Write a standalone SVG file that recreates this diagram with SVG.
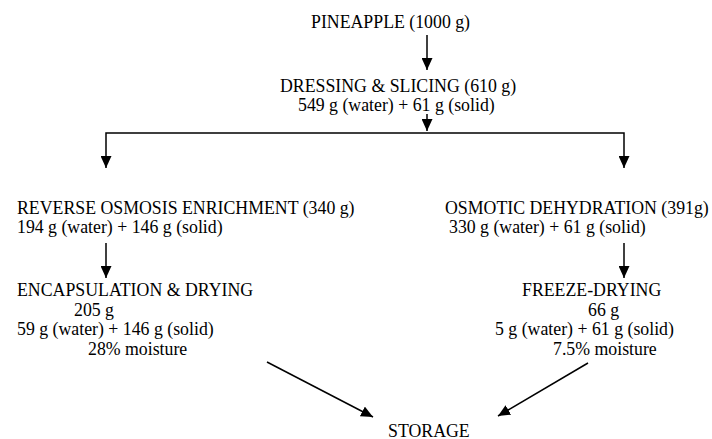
<svg xmlns="http://www.w3.org/2000/svg" width="712" height="439" viewBox="0 0 712 439" font-family="'Liberation Serif', Tinos, 'Times New Roman', 'DejaVu Serif', serif" font-size="17.8">
<style>
text{font-family:'Liberation Serif',Tinos,'Times New Roman','DejaVu Serif',serif;font-size:17.8px;fill:#000}
.c{fill:none;stroke:#000;stroke-width:1.5}
</style>
<defs>
<marker id="ah" markerUnits="userSpaceOnUse" markerWidth="12" markerHeight="11" viewBox="0 0 12 11" refX="12" refY="5.5" orient="auto">
<path d="M0,0 L12,5.5 L0,11 z" fill="#000"/>
</marker>
</defs>
<rect width="712" height="439" fill="#fff"/>
<g id="connectors">
<path class="c" d="M427,35 V70" marker-end="url(#ah)"/>
<path class="c" d="M427,114 V131" marker-end="url(#ah)"/>
<path class="c" d="M427,133 H106 V168" marker-end="url(#ah)"/>
<path class="c" d="M427,133 H624 V168" marker-end="url(#ah)"/>
<path class="c" d="M106,243 V278" marker-end="url(#ah)"/>
<path class="c" d="M624,243 V278" marker-end="url(#ah)"/>
<path class="c" d="M267,362 L373,417" marker-end="url(#ah)"/>
<path class="c" d="M588,363 L498,416" marker-end="url(#ah)"/>
</g>
<g id="pineapple"><text x="311" y="28">PINEAPPLE (1000 g)</text></g>
<g id="dressing">
<text x="280" y="92">DRESSING &amp; SLICING (610 g)</text>
<text x="298" y="111">549 g (water) + 61 g (solid)</text>
</g>
<g id="reverse-osmosis">
<text x="17" y="214">REVERSE OSMOSIS ENRICHMENT (340 g)</text>
<text x="17" y="233">194 g (water) + 146 g (solid)</text>
</g>
<g id="osmotic">
<text x="445" y="214">OSMOTIC DEHYDRATION (391g)</text>
<text x="449" y="233">330 g (water) + 61 g (solid)</text>
</g>
<g id="encapsulation">
<text x="17" y="296">ENCAPSULATION &amp; DRYING</text>
<text x="74" y="315.5">205 g</text>
<text x="17" y="335">59 g (water) + 146 g (solid)</text>
<text x="88" y="355">28% moisture</text>
</g>
<g id="freeze-drying">
<text x="522" y="296">FREEZE-DRYING</text>
<text x="588" y="315.5">66 g</text>
<text x="495" y="335">5 g (water) + 61 g (solid)</text>
<text x="553" y="355">7.5% moisture</text>
</g>
<g id="storage"><text x="388" y="436.5">STORAGE</text></g>
</svg>
